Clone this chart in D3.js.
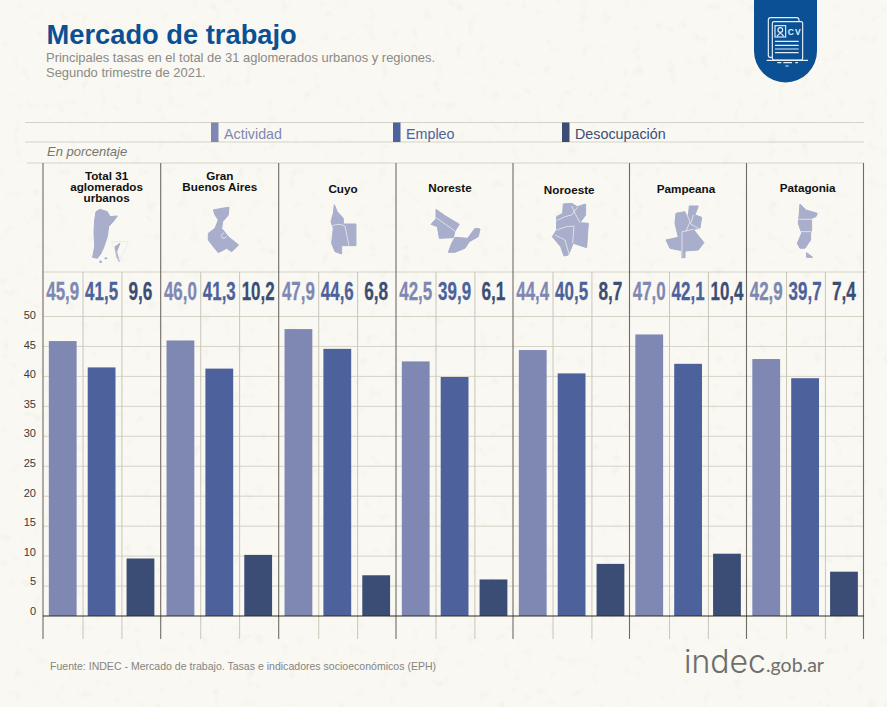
<!DOCTYPE html>
<html>
<head>
<meta charset="utf-8">
<title>Mercado de trabajo</title>
<script src="https://cdn.jsdelivr.net/npm/d3@7"></script>
<style>
  html, body { margin: 0; padding: 0; background: #f9f8f2; }
  svg { display: block; font-family: "Liberation Sans", Arial, sans-serif; }
</style>
</head>
<body>
<div id="chart"></div>
<script>
// Data
const regions = ['Total', 'GBA', 'Cuyo', 'Noreste', 'Noroeste', 'Pampeana', 'Patagonia'];
const regionTitles = [
  ['Total 31', 'aglomerados', 'urbanos'],
  ['Gran', 'Buenos Aires'],
  ['Cuyo'],
  ['Noreste'],
  ['Noroeste'],
  ['Pampeana'],
  ['Patagonia']
];
const seriesNames = ['Actividad', 'Empleo', 'Desocupación'];
const actividad = [45.9, 46.0, 47.9, 42.5, 44.4, 47.0, 42.9];
const empleo = [41.5, 41.3, 44.6, 39.9, 40.5, 42.1, 39.7];
const desocupacion = [9.6, 10.2, 6.8, 6.1, 8.7, 10.4, 7.4];
const seriesValues = [actividad, empleo, desocupacion];
const yTicks = [0, 5, 10, 15, 20, 25, 30, 35, 40, 45, 50];

const seriesColors = ['#7f88b3', '#4d629c', '#3c4d75'];
const gridColor = '#d6d3c6';
const dividerColor = '#6f6c64';

const width = 887;
const height = 707;

const svg = d3.select('#chart').append('svg')
  .attr('width', width)
  .attr('height', height);

// Paper texture
const defs = svg.append('defs');
const speckle = defs.append('filter').attr('id', 'speckle')
  .attr('x', 0).attr('y', 0).attr('width', '100%').attr('height', '100%');
speckle.append('feTurbulence')
  .attr('type', 'fractalNoise').attr('baseFrequency', 0.09).attr('numOctaves', 2).attr('seed', 4);
speckle.append('feColorMatrix')
  .attr('values', '0 0 0 0 0.88  0 0 0 0 0.87  0 0 0 0 0.81  0 0 0 5 -3.05');

svg.append('rect').attr('width', width).attr('height', height).attr('fill', '#f9f8f2');
svg.append('rect').attr('width', width).attr('height', height).attr('filter', 'url(#speckle)').attr('opacity', 0.55);

// Scales. The panels in the original are not quite evenly spaced.
const panelWidth = 117.2;
const x0 = d3.scaleOrdinal().domain(regions).range([43, 160.7, 278.7, 396, 513, 629.5, 746.5]);
const x1 = d3.scaleBand().domain(seriesNames).range([0, panelWidth])
  .paddingInner(0.285).paddingOuter(0.15);
const y = d3.scaleLinear().domain([0, 50]).range([616, 316.5]);
// tick labels sit a little above their gridlines towards the bottom
const yLabel = d3.scaleLinear().domain([0, 50]).range([611, 315]);

// Header
svg.append('text')
  .attr('x', 46.5).attr('y', 44)
  .attr('font-size', 27.3).attr('font-weight', 700).attr('fill', '#0b4f94')
  .text('Mercado de trabajo');
svg.append('text')
  .attr('x', 46).attr('y', 62)
  .attr('font-size', 12.95).attr('fill', '#8b8a85')
  .text('Principales tasas en el total de 31 aglomerados urbanos y regiones.');
svg.append('text')
  .attr('x', 46).attr('y', 77)
  .attr('font-size', 12.95).attr('fill', '#8b8a85')
  .text('Segundo trimestre de 2021.');

// Badge with CV icon
const badge = svg.append('g');
badge.append('path')
  .attr('d', 'M754,0 H817 V51 A31.5,31.5 0 0 1 754,51 Z')
  .attr('fill', '#0b4f94');
const icon = badge.append('g')
  .attr('transform', 'translate(720,0) scale(0.3333)')
  .attr('fill', 'none').attr('stroke', '#e3eef7').attr('stroke-width', 3.5);
icon.append('path').attr('d', 'M157,172 H150 Q145,172 145,165 V60 Q145,53 152,53 H230 Q237,53 237,60 V64');
icon.append('rect').attr('x', 157).attr('y', 65).attr('width', 91).attr('height', 115).attr('rx', 5);
icon.append('rect').attr('x', 165).attr('y', 77).attr('width', 32).attr('height', 34);
icon.append('circle').attr('cx', 181).attr('cy', 90).attr('r', 7);
icon.append('path').attr('d', 'M171,109 Q181,92 191,109');
icon.append('path').attr('d', 'M165,124 H236 M165,136 H236 M165,147 H236 M165,158 H236 M140,181 H264 M172,188 H184 M190,188 H216 M226,188 H234 M196,198 H206');
badge.append('text')
  .attr('x', 794.7).attr('y', 34.5)
  .attr('text-anchor', 'middle').attr('font-size', 8.5).attr('font-weight', 700).attr('letter-spacing', 1)
  .attr('fill', '#e3eef7').text('CV');

// Legend
const rules = [[25, 864, 122.5], [25, 864, 142], [27, 864, 163], [43, 866, 272]];
svg.append('g').selectAll('line').data(rules).join('line')
  .attr('x1', d => d[0]).attr('x2', d => d[1])
  .attr('y1', d => d[2]).attr('y2', d => d[2])
  .attr('stroke', gridColor);

const legendX = [211, 393, 562];
const legend = svg.append('g').selectAll('g').data(seriesNames).join('g')
  .attr('transform', (d, i) => `translate(${legendX[i]},122.5)`);
legend.append('rect')
  .attr('width', 7.5).attr('height', 19.5)
  .attr('fill', (d, i) => seriesColors[i]);
legend.append('text')
  .attr('x', 13).attr('y', 16)
  .attr('font-size', 14.3)
  .attr('fill', (d, i) => seriesColors[i])
  .text(d => d);

svg.append('text')
  .attr('x', 47).attr('y', 156)
  .attr('font-size', 13).attr('font-style', 'italic').attr('fill', '#77756f')
  .text('En porcentaje');

// Grid
svg.append('g').selectAll('line').data(yTicks.slice(1)).join('line')
  .attr('x1', 43).attr('x2', 864)
  .attr('y1', d => y(d)).attr('y2', d => y(d))
  .attr('stroke', gridColor);

const yAxis = svg.append('g')
  .attr('transform', 'translate(36,0)')
  .call(d3.axisLeft(yLabel).tickValues(yTicks).tickSize(0).tickPadding(0));
yAxis.select('.domain').remove();
yAxis.selectAll('text')
  .attr('font-family', '"Liberation Sans", Arial, sans-serif')
  .attr('font-size', 11).attr('fill', '#3a3a38');

// Panels
const panel = svg.append('g').selectAll('g').data(regions).join('g')
  .attr('transform', d => `translate(${x0(d)},0)`);

// light dividers between the three columns of a panel
panel.selectAll('.sub').data(seriesNames.slice(1)).join('line')
  .attr('class', 'sub')
  .attr('x1', d => x1(d) - x1.step() * 0.12).attr('x2', d => x1(d) - x1.step() * 0.12)
  .attr('y1', 272).attr('y2', 639)
  .attr('stroke', '#c9c6b9');

panel.selectAll('.bar')
  .data((d, i) => seriesNames.map((s, j) => ({ s, j, v: seriesValues[j][i] })))
  .join('rect')
  .attr('class', 'bar')
  .attr('x', d => x1(d.s))
  .attr('y', d => y(d.v))
  .attr('width', x1.bandwidth())
  .attr('height', d => y(0) - y(d.v))
  .attr('fill', d => seriesColors[d.j]);

// Big condensed value labels, squeezed to the width they have in the original
const fmt = v => v.toFixed(1).replace('.', ',');
panel.selectAll('.value')
  .data((d, i) => seriesNames.map((s, j) => ({ s, j, v: seriesValues[j][i] })))
  .join('text')
  .attr('class', 'value')
  .attr('text-anchor', 'middle')
  .attr('font-size', 25).attr('font-weight', 700)
  .attr('font-family', '"Liberation Sans Narrow", "Liberation Sans", sans-serif')
  .attr('fill', d => seriesColors[d.j])
  .attr('stroke', d => seriesColors[d.j]).attr('stroke-width', 0.25)
  .text(d => fmt(d.v))
  .attr('transform', function(d) {
    const target = fmt(d.v).length === 4 ? 33 : 24;
    const k = target / this.getComputedTextLength();
    return `translate(${x1(d.s) + x1.bandwidth() / 2},299.5) scale(${k},1)`;
  });

// Panel titles
const titleY = [180, 180, 193, 192.3, 194, 193, 191.7];
const titleDx = [5, 0.5, 5.7, -4.6, -2.4, -2.1, 2.6];
panel.each(function(d, i) {
  const t = d3.select(this).append('text')
    .attr('text-anchor', 'middle')
    .attr('font-size', 11.7).attr('font-weight', 700).attr('fill', '#111');
  regionTitles[i].forEach((line, k) => {
    t.append('tspan')
      .attr('x', panelWidth / 2 + titleDx[i])
      .attr('y', titleY[i] + k * 10.8)
      .text(line);
  });
});

// Panel dividers and baseline
const dividers = regions.map(d => x0(d)).concat(863.5);
svg.append('g').selectAll('line').data(dividers).join('line')
  .attr('x1', d => d).attr('x2', d => d)
  .attr('y1', 163).attr('y2', 639)
  .attr('stroke', dividerColor).attr('stroke-width', 1.1);
svg.append('line')
  .attr('x1', 43).attr('x2', 864).attr('y1', y(0)).attr('y2', y(0))
  .attr('stroke', '#2c2b28').attr('stroke-width', 1.1);

// Region silhouettes, outlines traced by hand. Each has its own origin.
const mapColor = '#a8aecb';
const mapShapes = [
  { at: [0, 100], fill: 'M288,335 L300,328 L322,335 L330,350 L352,348 L342,362 L326,380 L322,410 L312,440 L302,462 L292,475 L278,472 L284,440 L282,395 L284,360 Z M345,440 L360,430 L350,455 L358,485 L350,470 Z M300,482 L306,486 L300,488 Z M315,473 L322,475 L315,477 Z', lines: '' },
  { at: [0, 100], fill: 'M640,330 L665,325 L687,322 L685,345 L668,365 L665,385 L685,410 L716,435 L695,455 L680,445 L655,458 L640,440 L625,420 L625,400 L645,385 L655,360 L645,345 Z', lines: 'M672,398 Q660,405 668,415 Q676,415 680,410' },
  { at: [0, 100], fill: 'M1003,314 L1012,335 L1030,355 L1030,372 L1068,372 L1068,437 L1042,437 L1025,437 L1025,462 L1005,455 L995,430 L1000,385 L993,365 L1000,340 Z', lines: 'M997,378 Q1015,368 1035,378 L1047,437' },
  { at: [400, 195], fill: 'M108,43 L135,62 L178,88 L165,108 L160,128 L118,130 L112,95 L93,88 L108,72 Z M165,127 L203,130 L225,100 L240,102 L235,125 L208,140 L195,160 L165,172 L145,172 L155,145 Z', lines: 'M108,68 L165,108' },
  { at: [440, 100], fill: 'M370,312 L395,310 L412,320 L437,312 L437,345 L420,368 L445,370 L440,443 L400,430 L385,465 L372,468 L362,440 L337,410 L350,390 L350,350 L368,340 Z', lines: 'M350,362 L375,350 L395,345 L412,322 M395,318 L405,340 L420,368 M350,390 L380,380 L402,378 L398,430 M345,405 L375,420 L388,465' },
  { at: [440, 100], fill: 'M748,318 L775,318 L765,345 L785,352 L780,385 L760,388 L792,428 L775,450 L735,453 L735,473 L725,473 L725,452 L690,445 L678,420 L715,412 L705,370 L708,340 L735,335 L745,350 Z', lines: 'M737,335 L750,365 L738,395 M760,345 L752,372 L780,388 M726,395 L760,388 M726,395 L726,473' },
  { at: [440, 100], fill: 'M1080,312 L1098,330 L1132,340 L1128,350 L1115,355 L1115,390 L1112,400 L1112,420 L1095,445 L1080,445 L1072,430 L1085,400 L1075,370 L1078,340 Z M1100,458 L1118,472 L1100,472 Z', lines: 'M1076,358 L1116,358 M1080,395 L1114,395' }
];
const maps = svg.append('g').selectAll('g').data(mapShapes).join('g')
  .attr('transform', d => `translate(${d.at[0]},${d.at[1]}) scale(0.3333)`);
maps.append('path').attr('d', d => d.fill).attr('fill', mapColor)
  .attr('stroke', mapColor).attr('stroke-width', 3).attr('stroke-linejoin', 'round');
maps.append('path').attr('d', d => d.lines)
  .attr('fill', 'none').attr('stroke', '#f3f2ec').attr('stroke-width', 2.2);
// outline of the antarctic sector on the first map
svg.append('path')
  .attr('transform', 'translate(0,100) scale(0.3333)')
  .attr('d', 'M335,425 L385,425 L358,485 Z')
  .attr('fill', 'none').attr('stroke', '#dcdde4').attr('stroke-width', 1.5);

// Footer
svg.append('text')
  .attr('x', 50).attr('y', 670)
  .attr('font-size', 10.55).attr('fill', '#85847f')
  .text('Fuente: INDEC - Mercado de trabajo. Tasas e indicadores socioeconómicos (EPH)');
svg.append('text')
  .attr('x', 684).attr('y', 673)
  .attr('font-size', 32).attr('font-weight', 300).attr('font-family', 'Inter, Lato, sans-serif')
  .attr('fill', '#6e6e6b')
  .text('indec');
svg.append('text')
  .attr('x', 766).attr('y', 672)
  .attr('font-size', 19.5).attr('font-family', 'Lato, "Open Sans", sans-serif')
  .attr('fill', '#6e6e6b')
  .text('.gob.ar');
</script>
</body>
</html>
